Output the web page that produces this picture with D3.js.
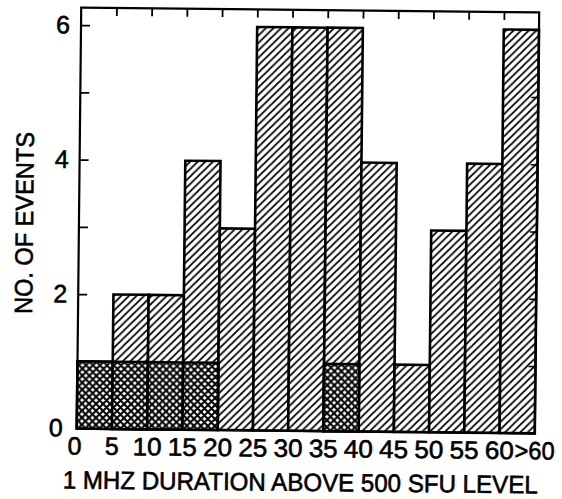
<!DOCTYPE html>
<html>
<head>
<meta charset="utf-8">
<script src="https://cdn.jsdelivr.net/npm/d3@7"></script>
<style>
html,body{margin:0;padding:0;background:#fff;}
svg{display:block;}
text{font-family:"Liberation Sans","DejaVu Sans",sans-serif;fill:#000;stroke:#000;stroke-width:0.6px;}
</style>
</head>
<body>
<svg id="chart" width="562" height="499"></svg>
<script>
// Data
const binLabels = ["0","5","10","15","20","25","30","35","40","45","50","55","60",">60"];
const totalEvents = [1,2,2,4,3,6,6,6,4,1,3,4,6];
const crossEvents = [1,1,1,1,0,0,0,1,0,0,0,0,0];
const yTickValues = [0,1,2,3,4,5,6];
const yTickLabels = [0,2,4,6];
const xTitle = "1 MHZ DURATION ABOVE 500 SFU LEVEL";
const yTitle = "NO. OF EVENTS";

const plotL = 79, plotR = 537, plotT = 10, plotB = 431;

const svg = d3.select("#chart");
const defs = svg.append("defs");

// diagonal hatch
const hp = 7.5;
const hatch = defs.append("pattern").attr("id","hatch")
  .attr("patternUnits","userSpaceOnUse").attr("width",hp).attr("height",hp);
hatch.append("rect").attr("width",hp).attr("height",hp).attr("fill","#fff");
hatch.append("path").attr("d",`M${-hp/2},${hp/2} L${hp/2},${-hp/2} M0,${hp} L${hp},0 M${hp/2},${hp*1.5} L${hp*1.5},${hp/2}`)
  .attr("stroke","#000").attr("stroke-width",1.8);

// cross hatch
const cp = 7;
const cross = defs.append("pattern").attr("id","cross")
  .attr("patternUnits","userSpaceOnUse").attr("width",cp).attr("height",cp);
cross.append("rect").attr("width",cp).attr("height",cp).attr("fill","#fff");
cross.append("path").attr("d",
  `M${-cp/2},${cp/2} L${cp/2},${-cp/2} M0,${cp} L${cp},0 M${cp/2},${cp*1.5} L${cp*1.5},${cp/2} ` +
  `M${-cp/2},${cp/2} L${cp/2},${cp*1.5} M0,0 L${cp},${cp} M${cp/2},${-cp/2} L${cp*1.5},${cp/2}`)
  .attr("stroke","#000").attr("stroke-width",2.0);

const g = svg.append("g").attr("transform","rotate(0.6,309,220)");

const x = d3.scaleLinear().domain([0, binLabels.length - 1]).range([plotL, plotR]);
const y = d3.scaleLinear().domain([0, 6]).range([plotB, 27.5]);

// bars (total)
g.selectAll("rect.total").data(totalEvents).join("rect")
  .attr("class","total")
  .attr("x",(d,i)=>x(i)).attr("width",(d,i)=>x(i+1)-x(i))
  .attr("y",d=>y(d)).attr("height",d=>y(0)-y(d))
  .attr("fill","url(#hatch)").attr("stroke","#000").attr("stroke-width",2.6);

// cross-hatched portions
g.selectAll("rect.cross").data(crossEvents.map((v,i)=>({v,i})).filter(d=>d.v>0)).join("rect")
  .attr("class","cross")
  .attr("x",d=>x(d.i)).attr("width",d=>x(d.i+1)-x(d.i))
  .attr("y",d=>y(d.v)).attr("height",d=>y(0)-y(d.v))
  .attr("fill","url(#cross)").attr("stroke","#000").attr("stroke-width",2.6);

// frame
g.append("rect").attr("x",plotL).attr("y",plotT).attr("width",plotR-plotL).attr("height",plotB-plotT)
  .attr("fill","none").attr("stroke","#000").attr("stroke-width",2.2);

// left axis (inward ticks)
const yAxisL = d3.axisRight(y).tickValues(yTickValues).tickSize(9).tickFormat("");
const gl = g.append("g").attr("transform",`translate(${plotL},0)`).call(yAxisL);
gl.select(".domain").remove();
gl.selectAll(".tick line").attr("stroke","#000").attr("stroke-width",1.8);

// right axis (inward ticks)
const yAxisR = d3.axisLeft(y).tickValues(yTickValues).tickSize(7).tickFormat("");
const gr = g.append("g").attr("transform",`translate(${plotR},0)`).call(yAxisR);
gr.select(".domain").remove();
gr.selectAll(".tick line").attr("stroke","#000").attr("stroke-width",1.6);

// top axis (inward ticks at bin boundaries)
const topTicks = d3.range(1, binLabels.length - 1);
const xAxisT = d3.axisBottom(x).tickValues(topTicks).tickSize(8).tickFormat("");
const gt = g.append("g").attr("transform",`translate(0,${plotT})`).call(xAxisT);
gt.select(".domain").remove();
gt.selectAll(".tick line").attr("stroke","#000").attr("stroke-width",1.8);

// y labels
g.selectAll("text.ylab").data(yTickLabels).join("text")
  .attr("class","ylab")
  .attr("x",d=> d===0 ? plotL-14 : plotL-11)
  .attr("y",d=>y(d)+ (d===0 ? 8 : 8.5))
  .attr("text-anchor","end")
  .attr("font-size",25)
  .text(d=>d);

// x labels
g.selectAll("text.xlab").data(binLabels).join("text")
  .attr("class","xlab")
  .attr("x",(d,i)=>x(i) + (i===0 ? -2 : 0))
  .attr("y",plotB+26)
  .attr("text-anchor","middle")
  .attr("font-size",25)
  .each(function(d){
    if (d.length>1) d3.select(this).attr("textLength", d.length===2 ? 29 : 40).attr("lengthAdjust","spacingAndGlyphs");
  })
  .text(d=>d);

// x title
g.append("text")
  .attr("x",303).attr("y",491)
  .attr("text-anchor","middle")
  .attr("font-size",25)
  .attr("textLength",475).attr("lengthAdjust","spacingAndGlyphs")
  .text(xTitle);

// y title
g.append("text")
  .attr("transform","translate(33,226) rotate(-90)")
  .attr("text-anchor","middle")
  .attr("font-size",25)
  .attr("textLength",182).attr("lengthAdjust","spacingAndGlyphs")
  .text(yTitle);
</script>
</body>
</html>
